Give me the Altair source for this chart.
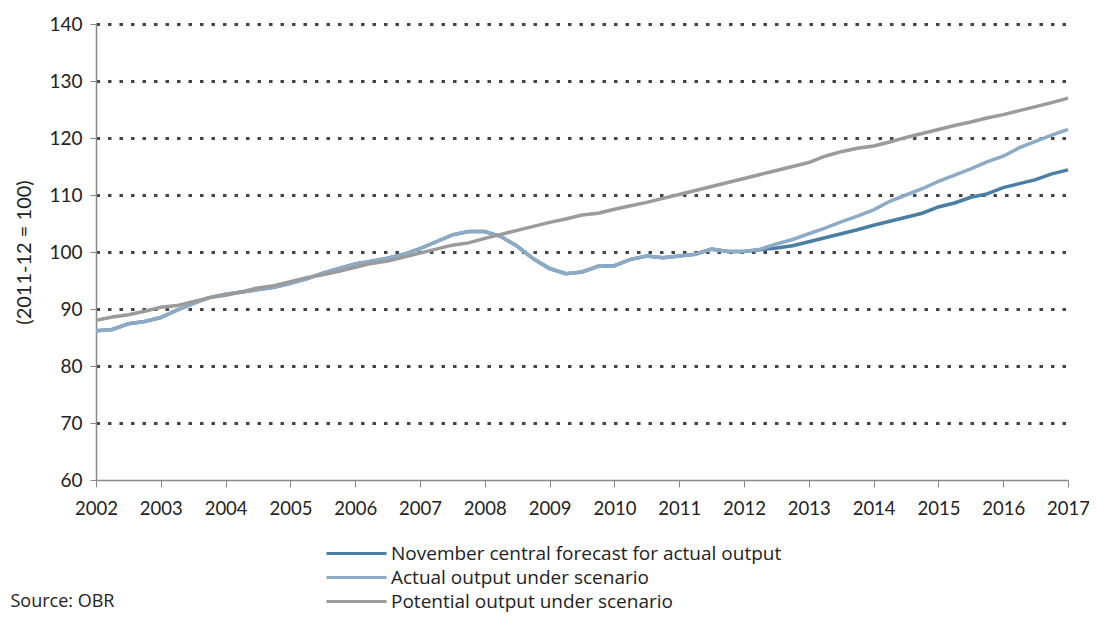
import altair as alt
import pandas as pd

quarters = [2002 + i * 0.25 for i in range(61)]

actual = [86.2, 86.4, 87.4, 87.8, 88.5, 89.8, 91.0, 92.0, 92.6, 93.0, 93.4, 93.8,
          94.5, 95.3, 96.3, 97.1, 97.9, 98.4, 98.9, 99.6, 100.6, 101.8, 103.0, 103.6,
          103.6, 102.7, 101.0, 98.8, 97.1, 96.2, 96.5, 97.5, 97.6, 98.7, 99.3, 99.0,
          99.3, 99.6, 100.5, 100.1, 100.1, 100.5, 101.4, 102.2, 103.2, 104.2, 105.3, 106.3,
          107.4, 108.9, 110.0, 111.1, 112.4, 113.5, 114.6, 115.8, 116.8, 118.3, 119.4, 120.5,
          121.5]

central = [86.2, 86.4, 87.4, 87.8, 88.5, 89.8, 91.0, 92.0, 92.6, 93.0, 93.4, 93.8,
           94.5, 95.3, 96.3, 97.1, 97.9, 98.4, 98.9, 99.6, 100.6, 101.8, 103.0, 103.6,
           103.6, 102.7, 101.0, 98.8, 97.1, 96.2, 96.5, 97.5, 97.6, 98.7, 99.3, 99.0,
           99.3, 99.6, 100.5, 100.1, 100.1, 100.4, 100.7, 101.1, 101.8, 102.5, 103.2, 103.9,
           104.7, 105.4, 106.1, 106.8, 107.9, 108.6, 109.6, 110.2, 111.3, 112.0, 112.7, 113.7,
           114.4]

potential = [88.0, 88.6, 89.0, 89.6, 90.3, 90.6, 91.3, 92.0, 92.4, 93.0, 93.7, 94.1,
             94.8, 95.5, 96.0, 96.6, 97.3, 98.0, 98.4, 99.1, 99.8, 100.5, 101.2, 101.6,
             102.4, 103.1, 103.8, 104.5, 105.2, 105.8, 106.5, 106.8, 107.5, 108.1, 108.7, 109.4,
             110.1, 110.8, 111.5, 112.2, 112.9, 113.6, 114.3, 115.0, 115.7, 116.8, 117.6, 118.2,
             118.6, 119.3, 120.1, 120.8, 121.5, 122.2, 122.8, 123.5, 124.1, 124.8, 125.5, 126.2,
             127.0]

series_names = ["November central forecast for actual output",
                "Actual output under scenario",
                "Potential output under scenario"]
series_colors = ["#4a7fa3", "#8eabc6", "#9b9b9b"]
year_ticks = list(range(2002, 2018))
y_ticks = [60, 70, 80, 90, 100, 110, 120, 130, 140]
source_text = "Source: OBR"

rows = []
for name, vals in zip(series_names, [central, actual, potential]):
    for q, v in zip(quarters, vals):
        rows.append({"t": q, "v": v, "series": name})
df = pd.DataFrame(rows)

FONT = "Lato"
FONT2 = "Open Sans"

chart = alt.Chart(df).mark_line(strokeWidth=3.5).encode(
    x=alt.X("t:Q", scale=alt.Scale(domain=[2002, 2017], nice=False, zero=False),
            axis=alt.Axis(values=year_ticks, format="d", grid=False,
                          title=source_text, titleX=-86, titleY=126,
                          titleAlign="left", titleAnchor="start", titleBaseline="alphabetic",
                          titleFontSize=18, titleFont=FONT2, titleFontWeight="normal",
                          titleColor="#222222",
                          labelFontSize=18.5, labelFont=FONT, labelColor="#222222",
                          labelPadding=12, tickSize=7, tickColor="#888888",
                          domainColor="#888888", domainWidth=1.5, labelFlush=False)),
    y=alt.Y("v:Q", scale=alt.Scale(domain=[60, 140], nice=False, zero=False),
            axis=alt.Axis(values=y_ticks, title="(2011-12 = 100)", titleFontSize=20,
                          titleFont=FONT, titleFontWeight="normal", titleColor="#222222",
                          titlePadding=14,
                          labelFontSize=19, labelFont=FONT, labelColor="#222222",
                          labelPadding=8, tickSize=6, tickColor="#888888",
                          domainColor="#888888", domainWidth=1.5,
                          grid=True, gridColor="#444444", gridWidth=3, gridDash=[3.5, 8],
                          gridOpacity={"condition": {"test": "datum.value === 60", "value": 0}, "value": 1})),
    color=alt.Color("series:N", scale=alt.Scale(domain=series_names, range=series_colors),
                    sort=series_names,
                    legend=alt.Legend(orient="none", legendX=251, legendY=520, title=None,
                                      symbolType="M-3.75,0H3.75", symbolSize=256,
                                      symbolStrokeWidth=3, symbolFillColor="transparent",
                                      labelFontSize=19, labelFont=FONT2, labelColor="#222222",
                                      labelOffset=25, rowPadding=4, direction="vertical",
                                      labelLimit=600)),
).properties(
    width=972, height=456,
    autosize=alt.AutoSizeParams(type="none"),
    padding={"left": 88, "top": 16, "right": 21, "bottom": 132},
).configure_view(stroke=None)

chart.save("out.html", embed_options={"renderer": "svg", "actions": False})
